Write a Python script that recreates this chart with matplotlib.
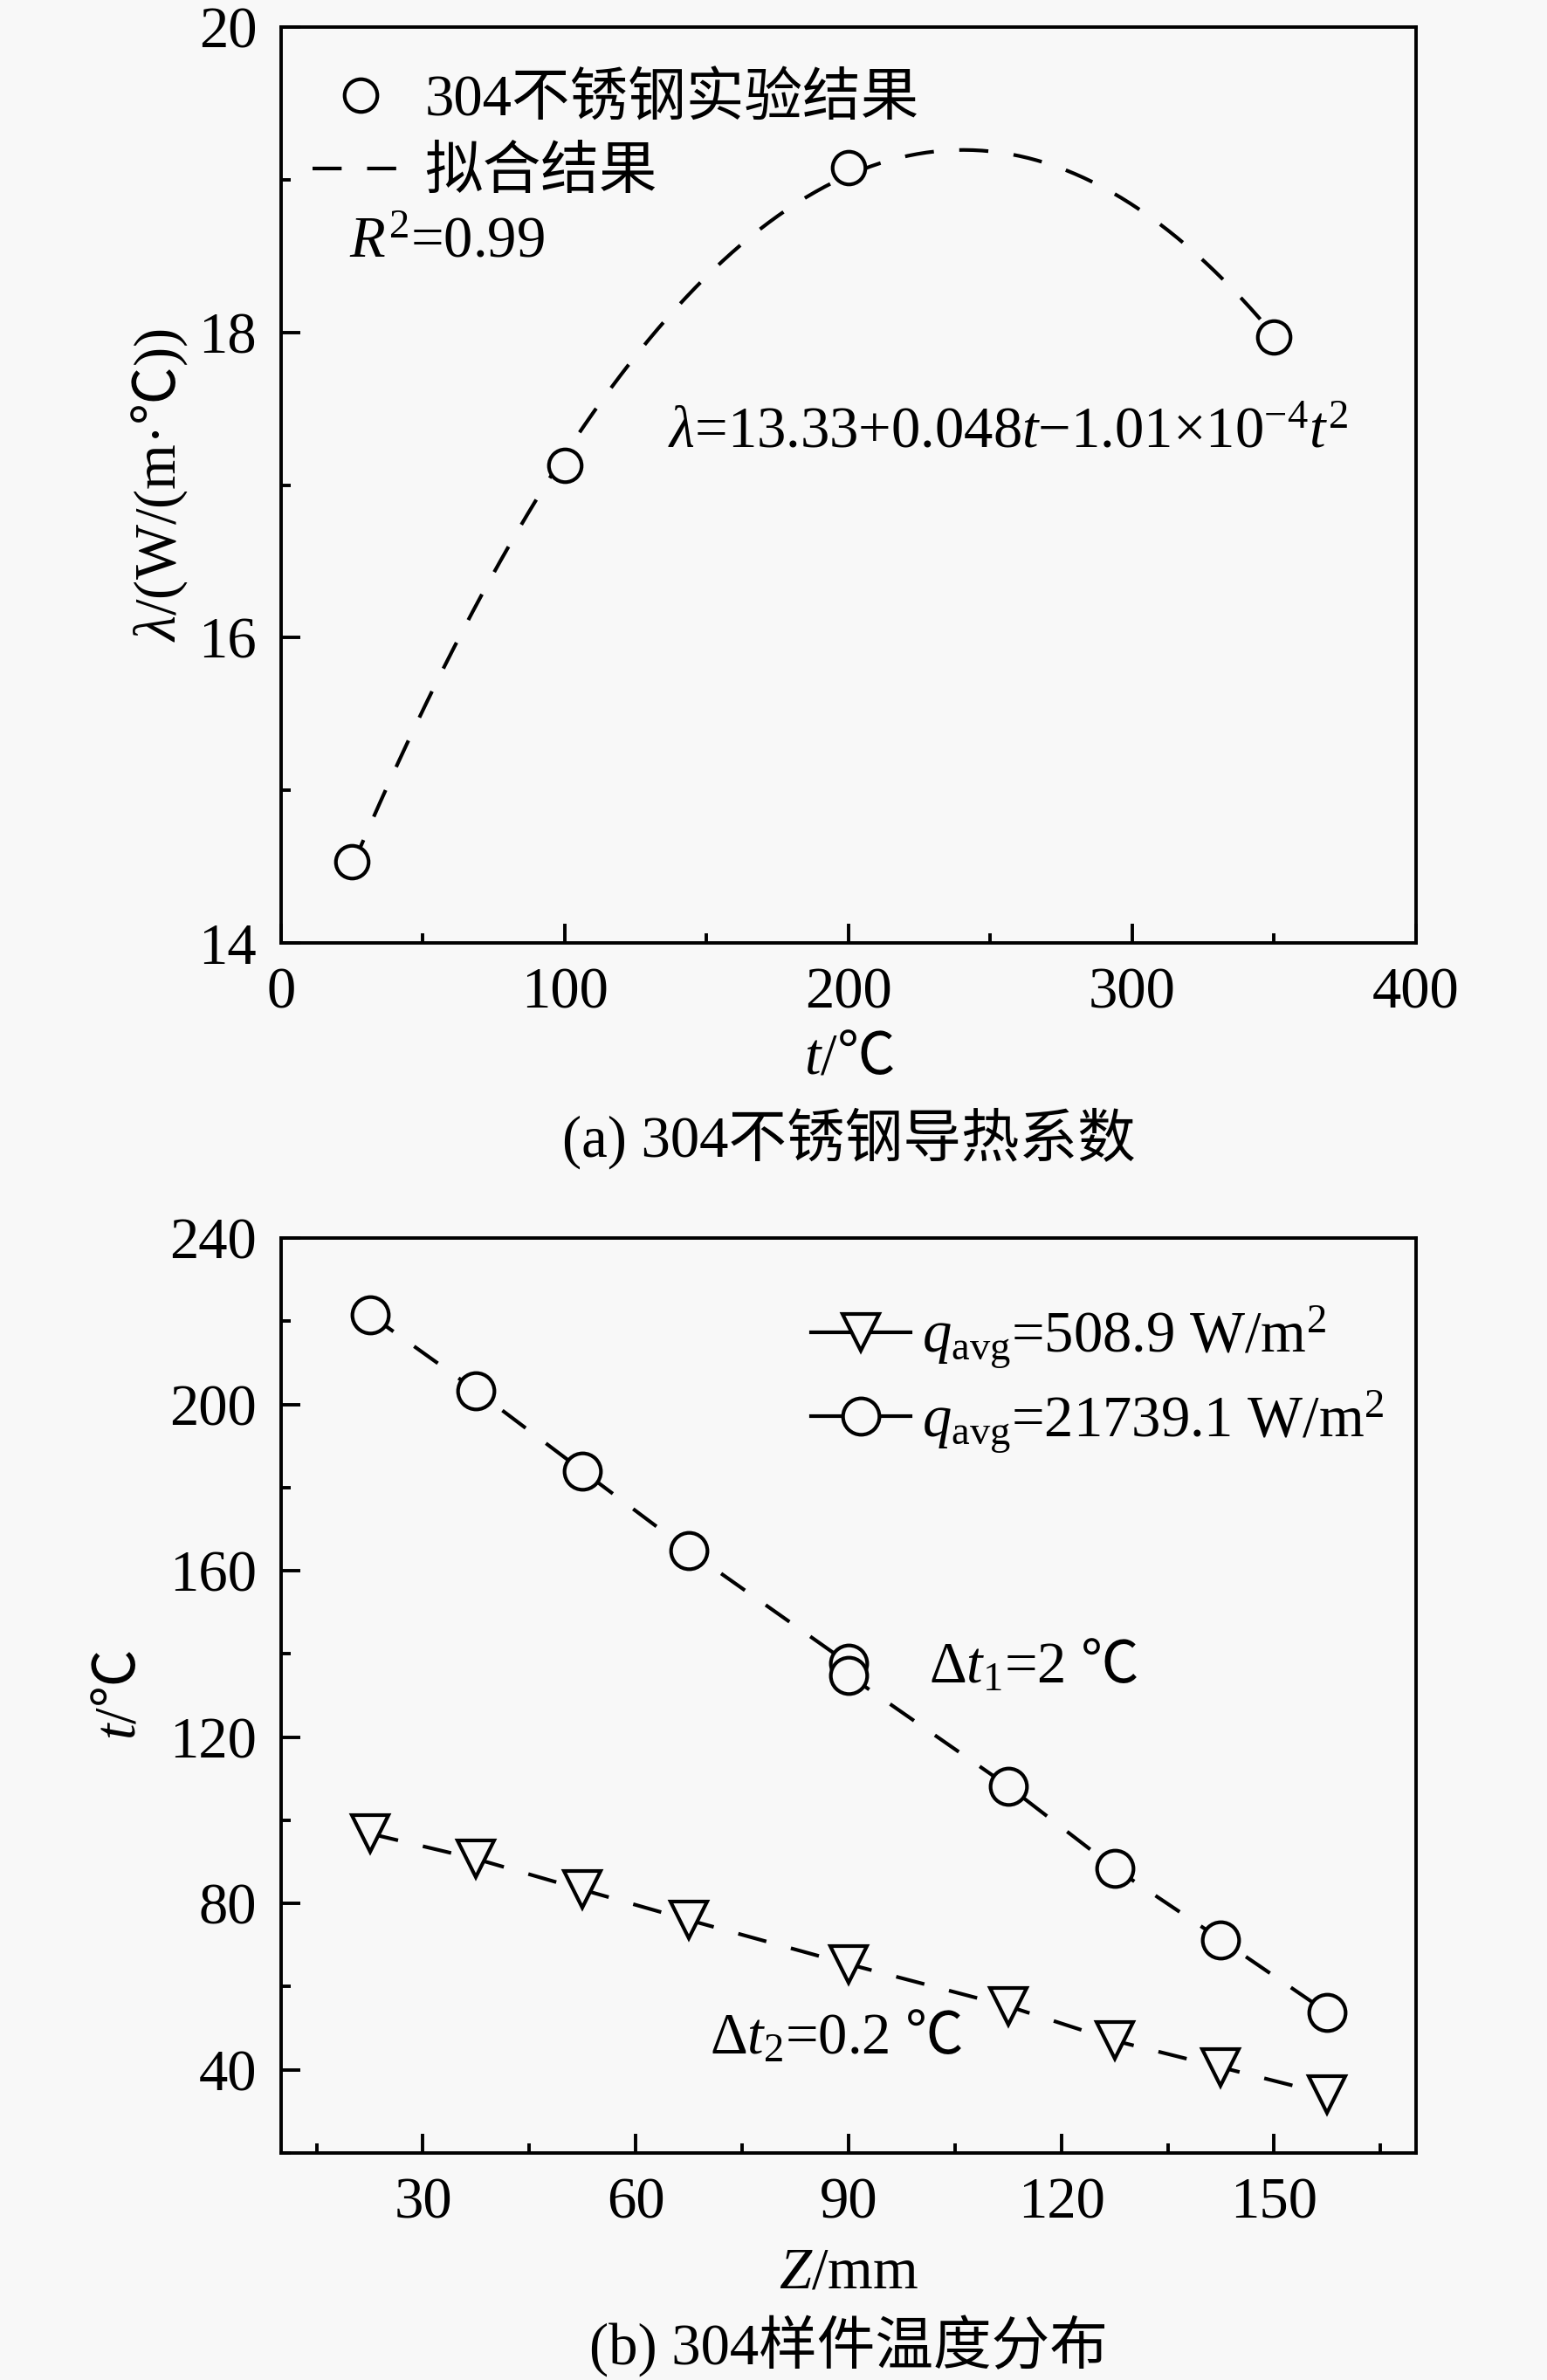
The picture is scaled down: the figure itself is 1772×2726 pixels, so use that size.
import numpy as np
import matplotlib
matplotlib.use("Agg")
import matplotlib.pyplot as plt
from matplotlib.ticker import MultipleLocator

# ---- data (a): thermal conductivity of 304 stainless steel ----
t_exp = [25, 100, 200, 350]
lam_exp = [14.53, 17.13, 19.08, 17.97]

# ---- data (b): temperature along the sample ----
z_pos = [22.5, 37.5, 52.5, 67.5, 90, 112.5, 127.5, 142.5, 157.5]
t_low = [96.8, 90.7, 83.3, 76.0, 65.4, 55.3, 47.0, 40.6, 34.1]
z_high = [22.5, 37.5, 52.5, 67.5, 90, 90, 112.5, 127.5, 142.5, 157.5]
t_high = [221.6, 203.3, 184.0, 164.8, 137.7, 134.9, 108.2, 88.5, 71.3, 53.8]

BG = '#f8f8f8'
FS = 24
FAM = ['Liberation Serif', 'Noto Sans CJK SC', 'DejaVu Sans']

plt.rcParams['font.family'] = FAM
plt.rcParams['font.size'] = FS
# Times-like math, the degree-Celsius sign comes from the CJK font via \mathsf
plt.rcParams['mathtext.fontset'] = 'custom'
plt.rcParams['mathtext.rm'] = 'Liberation Serif'
plt.rcParams['mathtext.it'] = 'Liberation Serif:italic'
plt.rcParams['mathtext.bf'] = 'Liberation Serif:bold'
plt.rcParams['mathtext.sf'] = 'Noto Sans CJK SC'
plt.rcParams['axes.linewidth'] = 1.4
plt.rcParams['axes.unicode_minus'] = True

DEG = r'$\mathsf{℃}$'

fig = plt.figure(figsize=(8.86, 13.63), dpi=200, facecolor=BG)


def style_axes(ax):
    ax.set_facecolor(BG)
    ax.tick_params(which='both', direction='in', top=False, right=False,
                   labelsize=FS, pad=10)
    ax.tick_params(which='major', length=8, width=1.4)
    ax.tick_params(which='minor', length=4, width=1.4)


dash = (0, (8, 7))

# ---------------- (a) ----------------
ax1 = fig.add_axes([0.1817, 0.6038, 0.7336, 0.3848])
style_axes(ax1)

coef = np.polyfit(t_exp, lam_exp, 2)
t_fit = np.linspace(t_exp[0], t_exp[-1], 200)
ax1.plot(t_fit, np.polyval(coef, t_fit), color='black', lw=1.5,
         linestyle=dash, label='拟合结果', zorder=2)
ax1.plot(t_exp, lam_exp, linestyle='none', marker='o', ms=13.5,
         mfc=BG, mec='black', mew=1.5, label='304不锈钢实验结果', zorder=3)

ax1.set_xlim(0, 400)
ax1.set_ylim(14, 20)
ax1.xaxis.set_major_locator(MultipleLocator(100))
ax1.xaxis.set_minor_locator(MultipleLocator(50))
ax1.yaxis.set_major_locator(MultipleLocator(2))
ax1.yaxis.set_minor_locator(MultipleLocator(1))

ax1.set_xlabel(r'$t$/' + DEG)
ax1.set_ylabel(r'$\lambda$/(W/(m·' + DEG + '))')
ax1.xaxis.set_label_coords(0.5, -0.098)
ax1.yaxis.set_label_coords(-0.081, 0.5)

h, l = ax1.get_legend_handles_labels()
leg1 = ax1.legend(h[::-1], l[::-1], loc='upper left', bbox_to_anchor=(0.028, 0.949),
                  frameon=False, borderpad=0, borderaxespad=0, handlelength=1.65,
                  handletextpad=0.27, labelspacing=0.33)

ax1.text(0.06, 0.765, r'$R^2$=0.99', transform=ax1.transAxes,
         ha='left', va='center', fontsize=FS)
ax1.text(0.341, 0.557, r'$\lambda$=13.33+0.048$t$−1.01×10$^{-4}$$t^2$',
         transform=ax1.transAxes, ha='left', va='center', fontsize=FS)

fig.text(0.5485, 1 - 1304 / 2726, '(a) 304不锈钢导热系数', ha='center', va='center',
         fontsize=FS)

# ---------------- (b) ----------------
ax2 = fig.add_axes([0.1817, 0.0954, 0.7336, 0.3844])
style_axes(ax2)

ax2.plot(z_pos, t_low, color='black', lw=1.5, linestyle=dash, marker='v',
         ms=15, mfc=BG, mec='black', mew=1.5, label=r'$q_{\mathrm{avg}}$=508.9 W/m$^2$')
ax2.plot(z_high, t_high, color='black', lw=1.5, linestyle=dash, marker='o',
         ms=15, mfc=BG, mec='black', mew=1.5, label=r'$q_{\mathrm{avg}}$=21739.1 W/m$^2$')

ax2.set_xlim(10, 170)
ax2.set_ylim(20, 240)
ax2.xaxis.set_major_locator(MultipleLocator(30))
ax2.xaxis.set_minor_locator(MultipleLocator(15))
ax2.yaxis.set_major_locator(MultipleLocator(40))
ax2.yaxis.set_minor_locator(MultipleLocator(20))

ax2.set_xlabel(r'$Z$/mm')
ax2.set_ylabel(r'$t$/' + DEG)
ax2.xaxis.set_label_coords(0.5, -0.103)
ax2.yaxis.set_label_coords(-0.118, 0.5)

leg2 = ax2.legend(loc='upper left', bbox_to_anchor=(0.467, 0.928), frameon=False,
                  borderpad=0, borderaxespad=0, handlelength=1.71,
                  handletextpad=0.2, labelspacing=0.3)
for ln in leg2.get_lines():
    ln.set_linestyle('-')

ax2.text(0.571, 0.531, r'$\Delta t_1$=2 ' + DEG, transform=ax2.transAxes,
         ha='left', va='center', fontsize=FS)
ax2.text(0.378, 0.125, r'$\Delta t_2$=0.2 ' + DEG, transform=ax2.transAxes,
         ha='left', va='center', fontsize=FS)

fig.text(0.5485, 1 - 2687 / 2726, '(b) 304样件温度分布', ha='center', va='center',
         fontsize=FS)

fig.savefig('out.png', dpi=200, facecolor=BG)
